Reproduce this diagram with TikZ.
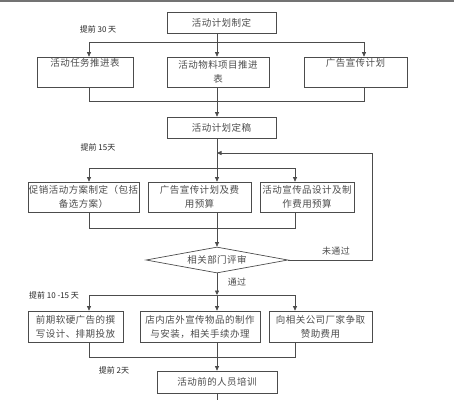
\documentclass[tikz,border=0pt]{standalone}
\usepackage{fontspec}
\newfontfamily\cjk[LetterSpace=5]{Noto Sans CJK SC}
\newfontfamily\cjknote{Noto Sans CJK SC}
\usetikzlibrary{arrows.meta,shapes.geometric}
\begin{document}
\begin{tikzpicture}[x=1pt,y=-1pt,
  box/.style={draw=black!70, line width=0.7pt, rectangle, inner sep=0pt, align=center,
    font=\cjk\fontsize{9.5}{14}\selectfont, text=black!70},
  dia/.style={draw=black!70, line width=0.7pt, diamond, aspect=5.5, inner sep=0pt,
    font=\cjk\fontsize{9.5}{14}\selectfont, text=black!70},
  link/.style={draw=black!70, line width=0.7pt},
  arr/.style={link, -{Triangle[length=4.5pt,width=4pt]}},
  note/.style={font=\cjknote\fontsize{8}{10}\selectfont, text=black!85, inner sep=0pt}]
\useasboundingbox (0,0) rectangle (454,400);
\draw[black!55, line width=1.5pt] (0,0.75) -- (454,0.75);

% nodes
\node[box, minimum width=109pt, minimum height=21pt] (n1) at (221.5,22.5) {活动计划制定};
\node[box, minimum width=96pt, minimum height=30pt] (a1) at (85,72) {活动任务推进表\\\strut};
\node[box, minimum width=102pt, minimum height=30pt] (a2) at (218,72) {活动物料项目推进\\表};
\node[box, minimum width=103pt, minimum height=30pt] (a3) at (355.5,72) {广告宣传计划\\\strut};
\node[box, minimum width=109pt, minimum height=21pt] (n2) at (221.5,127.5) {活动计划定稿};
\node[box, minimum width=111pt, minimum height=30pt] (b1) at (83.5,197) {促销活动方案制定（包括\\备选方案）};
\node[box, minimum width=103pt, minimum height=30pt] (b2) at (199.5,197) {广告宣传计划及费\\用预算};
\node[box, minimum width=94pt, minimum height=30pt] (b3) at (307,197) {活动宣传品设计及制\\作费用预算};
\node[dia, minimum width=142pt, minimum height=26pt] (d) at (217,260) {相关部门评审};
\node[box, minimum width=95pt, minimum height=31pt] (c1) at (75.5,326.5) {前期软硬广告的撰\\写设计、排期投放};
\node[box, minimum width=120pt, minimum height=31pt] (c2) at (200,326.5) {店内店外宣传物品的制作\\与安装，相关手续办理};
\node[box, minimum width=103pt, minimum height=31pt] (c3) at (320.5,326.5) {向相关公司厂家争取\\赞助费用};
\node[box, minimum width=120pt, minimum height=22pt] (n3) at (217,382) {活动前的人员培训};

% labels
\node[note] (t30) at (98,29) {提前 30 天};
\node[note] (t15) at (98,147) {提前 15天};
\node[note] (t1015) at (54,295) {提前 10 -15 天};
\node[note] (t2) at (114,370) {提前 2天};
\node[note, font=\cjk\fontsize{9}{10}\selectfont, text=black!70] (nopass) at (336,251) {未通过};
\node[note, font=\cjk\fontsize{9}{10}\selectfont, text=black!70] (pass) at (237,282) {通过};

% junction coordinates
\coordinate (sp) at (217,0);
\coordinate (l1) at (89,42);  \coordinate (j1) at (217,42);  \coordinate (r1) at (364,42);
\coordinate (k1l) at (89,101); \coordinate (k1) at (217,101); \coordinate (k1r) at (364,101);
\coordinate (fb) at (372,153); \coordinate (fbj) at (217,153);
\coordinate (l2) at (89,168); \coordinate (j2) at (217,168); \coordinate (r2) at (295,168);
\coordinate (k2l) at (89,228); \coordinate (k2) at (217,228); \coordinate (k2r) at (295,228);
\coordinate (l3) at (89,295); \coordinate (j3) at (217,295); \coordinate (r3) at (295,295);
\coordinate (k3l) at (89,357); \coordinate (k3) at (217,357); \coordinate (k3r) at (295,357);
\coordinate (bot) at (217,400);

% row 1
\draw[link] (n1.south -| sp) -- (j1);
\draw[link] (l1) -- (r1);
\draw[arr] (l1) -- (l1 |- a1.north);
\draw[arr] (j1) -- (j1 |- a2.north);
\draw[arr] (r1) -- (r1 |- a3.north);
\draw[link] (a1.south -| k1l) -- (k1l) -- (k1r) -- (a3.south -| k1r);
\draw[link] (a2.south -| k1) -- (k1);
\draw[arr] (k1) -- (n2.north -| k1);

% row 2
\draw[link] (n2.south -| sp) -- (j2);
\draw[link] (l2) -- (r2);
\draw[arr] (l2) -- (l2 |- b1.north);
\draw[arr] (j2) -- (j2 |- b2.north);
\draw[arr] (r2) -- (r2 |- b3.north);
\draw[link] (b1.south -| k2l) -- (k2l) -- (k2r) -- (b3.south -| k2r);
\draw[link] (b2.south -| k2) -- (k2);
\draw[arr] (k2) -- (d.north);

% feedback
\draw[arr] (d.east) -- (d.east -| fb) -- (fb) -- (fbj);

% row 3
\draw[arr] (d.south) -- (j3);
\draw[link] (l3) -- (r3);
\draw[arr] (l3) -- (l3 |- c1.north);
\draw[arr] (j3) -- (j3 |- c2.north);
\draw[arr] (r3) -- (r3 |- c3.north);
\draw[link] (c1.south -| k3l) -- (k3l) -- (k3r) -- (c3.south -| k3r);
\draw[link] (c2.south -| k3) -- (k3);
\draw[arr] (k3) -- (n3.north);
\draw[link] (n3.south) -- (bot);
\end{tikzpicture}
\end{document}
